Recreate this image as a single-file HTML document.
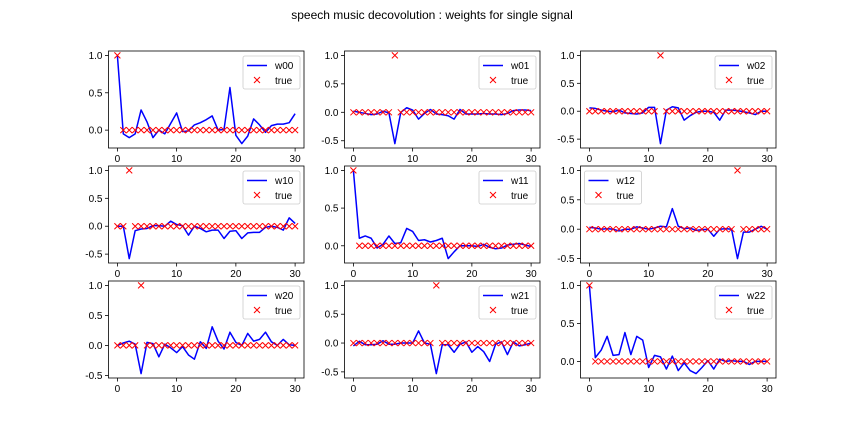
<!DOCTYPE html>
<html><head><meta charset="utf-8"><style>
body{margin:0;background:#fff;}
svg text{font-family:"Liberation Sans","DejaVu Sans",sans-serif;}
</style></head><body>
<svg id="fig" width="864" height="432" xmlns="http://www.w3.org/2000/svg">
<rect width="864" height="432" fill="#fff"/>
<text x="432" y="19" text-anchor="middle" font-size="12">speech music decovolution : weights for single signal</text>
</svg>
<script>
const names = ["w00","w01","w02","w10","w11","w12","w20","w21","w22"];
const w00 = [1.0,-0.05,-0.1,-0.05,0.27,0.11,-0.1,0,-0.05,0.09,0.23,-0.02,-0.01,0.07,0.1,0.14,0.19,0,0.01,0.57,-0.07,-0.18,-0.08,0.15,0.07,-0.03,0.06,0.08,0.08,0.1,0.22];
const w01 = [0.02,0,-0.02,-0.04,-0.03,0.02,-0.01,-0.55,0,0.08,0.04,-0.12,-0.02,0.05,-0.03,-0.04,-0.06,-0.12,0.05,-0.03,-0.03,-0.03,-0.02,-0.03,-0.03,-0.04,-0.02,0.03,0.04,0.04,0.03];
const w02 = [0.06,0.05,0.02,0,-0.01,0.02,-0.03,-0.04,-0.05,-0.03,0.07,0.07,-0.58,0.02,0.08,0.06,-0.16,-0.08,-0.02,0,0,-0.02,-0.16,0.02,0.02,0.01,-0.01,-0.03,-0.06,0,0];
const w10 = [0,0,-0.58,-0.08,-0.05,-0.04,0.01,0.01,0,0.09,0.03,0.01,-0.16,0,-0.04,-0.1,-0.07,-0.07,-0.22,-0.09,-0.08,-0.22,-0.12,-0.11,-0.11,-0.02,0,-0.02,-0.07,0.15,0.05];
const w11 = [1.0,0.1,0.13,0.1,-0.03,0.02,0.13,0.03,0.04,0.23,0.19,0.07,0.08,0.05,0.07,0.1,-0.17,-0.08,0,0,0,-0.01,0.02,-0.02,-0.04,-0.03,0.01,0.02,0.03,0.01,-0.01];
const w12 = [0.03,0.02,0,0.01,0,-0.03,0,0,0.04,0.02,0,0.02,0.05,0.04,0.35,0.05,0.01,0.02,-0.02,-0.01,0,-0.12,0,0.01,0,-0.5,-0.05,-0.05,0,0.05,0];
const w20 = [0,0.04,0.07,0.02,-0.47,0.05,0.03,-0.19,0.02,-0.04,-0.12,-0.02,-0.16,-0.23,0.06,-0.05,0.31,0.07,-0.06,0.22,0.05,0,0.2,0.07,0.1,0.22,0.06,0,0.1,0.01,0];
const w21 = [-0.05,0.03,-0.03,-0.03,-0.02,0.04,-0.02,-0.02,0,0,0,0.21,0,-0.02,-0.53,-0.03,-0.03,-0.16,-0.02,0.02,-0.16,-0.06,-0.15,-0.32,-0.02,0.02,-0.2,0.02,-0.05,-0.03,0];
const w22 = [1.0,0.05,0.15,0.33,0.08,0.09,0.38,0.09,0.33,0.28,-0.08,0.08,0.06,-0.1,0.07,-0.12,-0.02,-0.12,-0.16,-0.08,0.01,-0.1,0.03,0,0.01,0,0,-0.04,0,0,0];
const series = [w00,w01,w02,w10,w11,w12,w20,w21,w22];
const truePeaks = [0,7,12,2,0,25,4,14,0];
const xTicks = [0,10,20,30];
const yTicksA = [0,0.5,1.0];
const yTicksB = [-0.5,0,0.5,1.0];
const yTickSets = [yTicksA,yTicksB,yTicksB,yTicksB,yTicksA,yTicksB,yTicksB,yTicksB,yTicksA];
const legendLeft = [false,false,false,false,false,true,false,false,false];

const NS="http://www.w3.org/2000/svg";
const svg=document.getElementById('fig');
function mk(tag,attrs,parent){const e=document.createElementNS(NS,tag);for(const k in attrs)e.setAttribute(k,attrs[k]);(parent||svg).appendChild(e);return e;}
const colL=[108.5,344.5,580.5], colW=195.5;
const rowT=[51,166,281], rowH=97;
names.forEach((nm,p)=>{
  const data=series[p];
  const tv=data.map((_,i)=>i===truePeaks[p]?1:0);
  const all=data.concat(tv);
  let mn=Math.min(...all), mx=Math.max(...all), r=mx-mn;
  const y0=mn-0.05*r, y1=mx+0.05*r;
  const xl=-1.5, xr=31.5;
  const L=colL[p%3], T=rowT[Math.floor(p/3)];
  const X=v=>L+(v-xl)/(xr-xl)*colW;
  const Y=v=>T+rowH-(v-y0)/(y1-y0)*rowH;
  const g=mk('g',{});
  
  
  // ticks
  xTicks.forEach(t=>{
    const tk=mk('line',{x1:X(t),x2:X(t),y1:T+rowH,y2:T+rowH+3.5,stroke:'#000','stroke-width':0.8},g);
    
    
    const tx=mk('text',{x:X(t),y:T+rowH+14,'font-size':10,'text-anchor':'middle'},g);
    tx.textContent=t;
    
    
  });
  yTickSets[p].forEach(t=>{
    const tk=mk('line',{x1:L-3.5,x2:L,y1:Y(t),y2:Y(t),stroke:'#000','stroke-width':0.8},g);
    
    
    const tx=mk('text',{x:L-6,y:Y(t)+3.5,'font-size':10,'text-anchor':'end'},g);
    tx.textContent=t.toFixed(1);
    
    
  });
  // line
  const pl=mk('polyline',{points:data.map((v,i)=>X(i)+','+Y(v)).join(' '),fill:'none',stroke:'#0000ff','stroke-width':1.5,'stroke-linejoin':'round'},g);
  
  
  // true markers
  tv.forEach((v,i)=>{
    const cx=X(i), cy=Y(v), s=3;
    const m=mk('path',{d:`M${cx-s},${cy-s}L${cx+s},${cy+s}M${cx-s},${cy+s}L${cx+s},${cy-s}`,stroke:'#ff0000','stroke-width':1},g);
    
    
  });
  const fr=mk('rect',{x:L,y:T,width:colW,height:rowH,fill:'none',stroke:'#000','stroke-width':0.8},g);
  
  
  // legend
  const lw=57, lh=33;
  const lx=legendLeft[p]?L+4:L+colW-lw-4, ly=T+5;
  const lg=mk('g',{},g);
  
  
  mk('rect',{x:lx,y:ly,width:lw,height:lh,rx:2,fill:'#fff','fill-opacity':0.8,stroke:'#ccc','stroke-width':0.8},lg);
  mk('line',{x1:lx+4,x2:lx+24,y1:ly+9.5,y2:ly+9.5,stroke:'#0000ff','stroke-width':1.5},lg);
  const t1=mk('text',{x:lx+32,y:ly+13,'font-size':10},lg);t1.textContent=nm;
  const mx2=lx+14,my2=ly+24;
  mk('path',{d:`M${mx2-3},${my2-3}L${mx2+3},${my2+3}M${mx2-3},${my2+3}L${mx2+3},${my2-3}`,stroke:'#ff0000','stroke-width':1},lg);
  const t2=mk('text',{x:lx+32,y:ly+28,'font-size':10},lg);t2.textContent='true';
});
</script>
</body></html>
